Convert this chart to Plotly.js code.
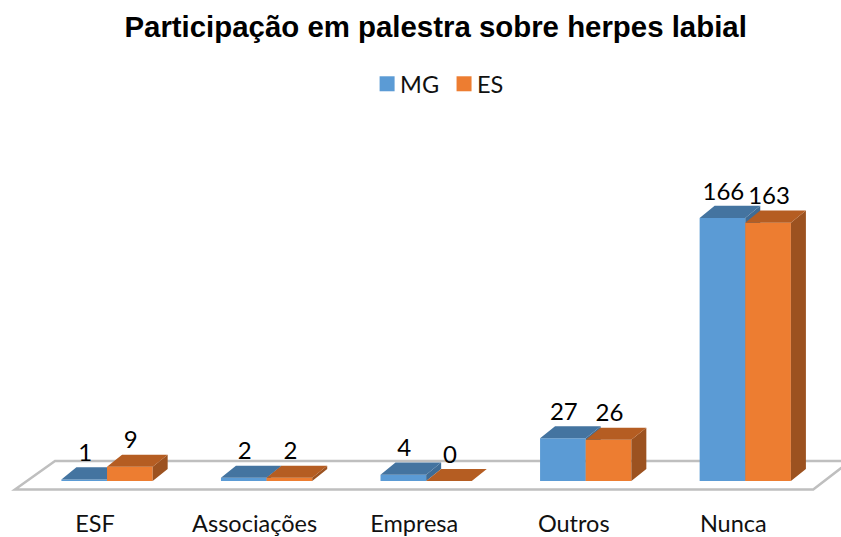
<!DOCTYPE html>
<html><head><meta charset="utf-8">
<script src="https://cdn.plot.ly/plotly-3.0.1.min.js"></script>
<style>html,body{margin:0;padding:0;background:#fff}
.infolayer g[class^="legend"] text{transform:translateX(-7px)}</style></head>
<body><div id="chart" style="width:841px;height:537px"></div>
<script>
const categories = ["ESF","Associações","Empresa","Outros","Nunca"];
const mgValues = [1,2,4,27,166];
const esValues = [9,2,0,26,163];
const title = "Participação em palestra sobre herpes labial";

const barW = 0.286, depthX = 0.094, depthY = 7.6, labelLift = 15.4, tickShift = 0.075;
const blue = "#5B9BD5", orange = "#ED7D31";
const blueTop = "#4474A0", orangeTop = "#B55D22", blueSide = "#3F6C95", orangeSide = "#9C5220";
const xRange = [-0.6708, 4.6], yRange = [-11.99, 240.4];

function faces(values, start, color, side, xa, ya){
  const tx=[],ty=[],sx=[],sy=[];
  values.forEach((v,i)=>{
    const a=i+start,b=a+barW;
    tx.push(a,b,b+depthX,a+depthX,a,null); ty.push(v,v,v+depthY,v+depthY,v,null);
    sx.push(b,b+depthX,b+depthX,b,b,null); sy.push(0,depthY,v+depthY,v,0,null);
  });
  const base={type:"scatter",mode:"lines",fill:"toself",line:{width:0},showlegend:false,hoverinfo:"skip",xaxis:xa,yaxis:ya};
  return [{...base,x:sx,y:sy,fillcolor:side},{...base,x:tx,y:ty,fillcolor:color}];
}
function bars(name,values,start,color,xa,ya){
  return {type:"bar",name,x:categories.map((_,i)=>i),y:values,width:barW,offset:start,
    marker:{color},showlegend:false,hoverinfo:"skip",xaxis:xa,yaxis:ya};
}
function labels(values,start,xa,ya){
  return {type:"scatter",mode:"text",x:values.map((_,i)=>i+start+barW/2+0.006),y:values.map(v=>v+labelLift),
    text:values.map(String),textposition:"middle center",textfont:{family:"Lato, sans-serif",size:24,color:"#000"},
    showlegend:false,hoverinfo:"skip",xaxis:xa,yaxis:ya};
}
function swatch(name,color,legend){
  return {type:"scatter",mode:"markers",name,legend,x:[null],y:[null],marker:{symbol:"square",size:15,color},xaxis:"x",yaxis:"y"};
}
const traces=[
  bars("MG",mgValues,-barW,blue,"x","y"),
  ...faces(mgValues,-barW,blueTop,blueSide,"x","y"),
  labels(mgValues,-barW,"x","y"),
  swatch("MG",blue,"legend"),swatch("ES",orange,"legend2"),
  bars("ES",esValues,0,orange,"x2","y2"),
  ...faces(esValues,0,orangeTop,orangeSide,"x2","y2"),
  labels(esValues,0,"x2","y2")
];
const legendFont={family:"Lato, sans-serif",size:23.5,color:"#111"};
const layout={
  width:841,height:537,margin:{l:0,r:0,t:100,b:37},paper_bgcolor:"#fff",plot_bgcolor:"#fff",
  title:{text:title,x:0.518,xanchor:"center",y:0.95,yanchor:"middle",font:{family:"Liberation Sans, Arial, sans-serif",size:29.4,color:"#000",weight:"bold"}},
  xaxis:{range:xRange,tickvals:categories.map((_,i)=>i-tickShift),ticktext:categories,showgrid:false,zeroline:false,showline:false,ticks:"",
    tickfont:{family:"Lato, sans-serif",size:23.5,color:"#111"},ticklabelstandoff:7},
  yaxis:{range:yRange,visible:false,showgrid:false,zeroline:false},
  xaxis2:{range:xRange,overlaying:"x",visible:false},
  yaxis2:{range:yRange,overlaying:"y",visible:false},
  legend:{orientation:"h",x:0.4365,xanchor:"left",y:1.04,yanchor:"middle",font:legendFont,itemwidth:30},
  legend2:{orientation:"h",x:0.528,xanchor:"left",y:1.04,yanchor:"middle",font:legendFont,itemwidth:30},
  shapes:[{type:"path",xref:"x",yref:"y",layer:"below",
    path:"M-0.577,-5.4 L4.426,-5.4 L4.658,12.6 L-0.326,12.6 Z",
    line:{color:"#BFBFBF",width:2.5},fillcolor:"#fff"}],
  showlegend:true
};
Plotly.newPlot("chart",traces,layout,{displayModeBar:false,staticPlot:true});
</script></body></html>
